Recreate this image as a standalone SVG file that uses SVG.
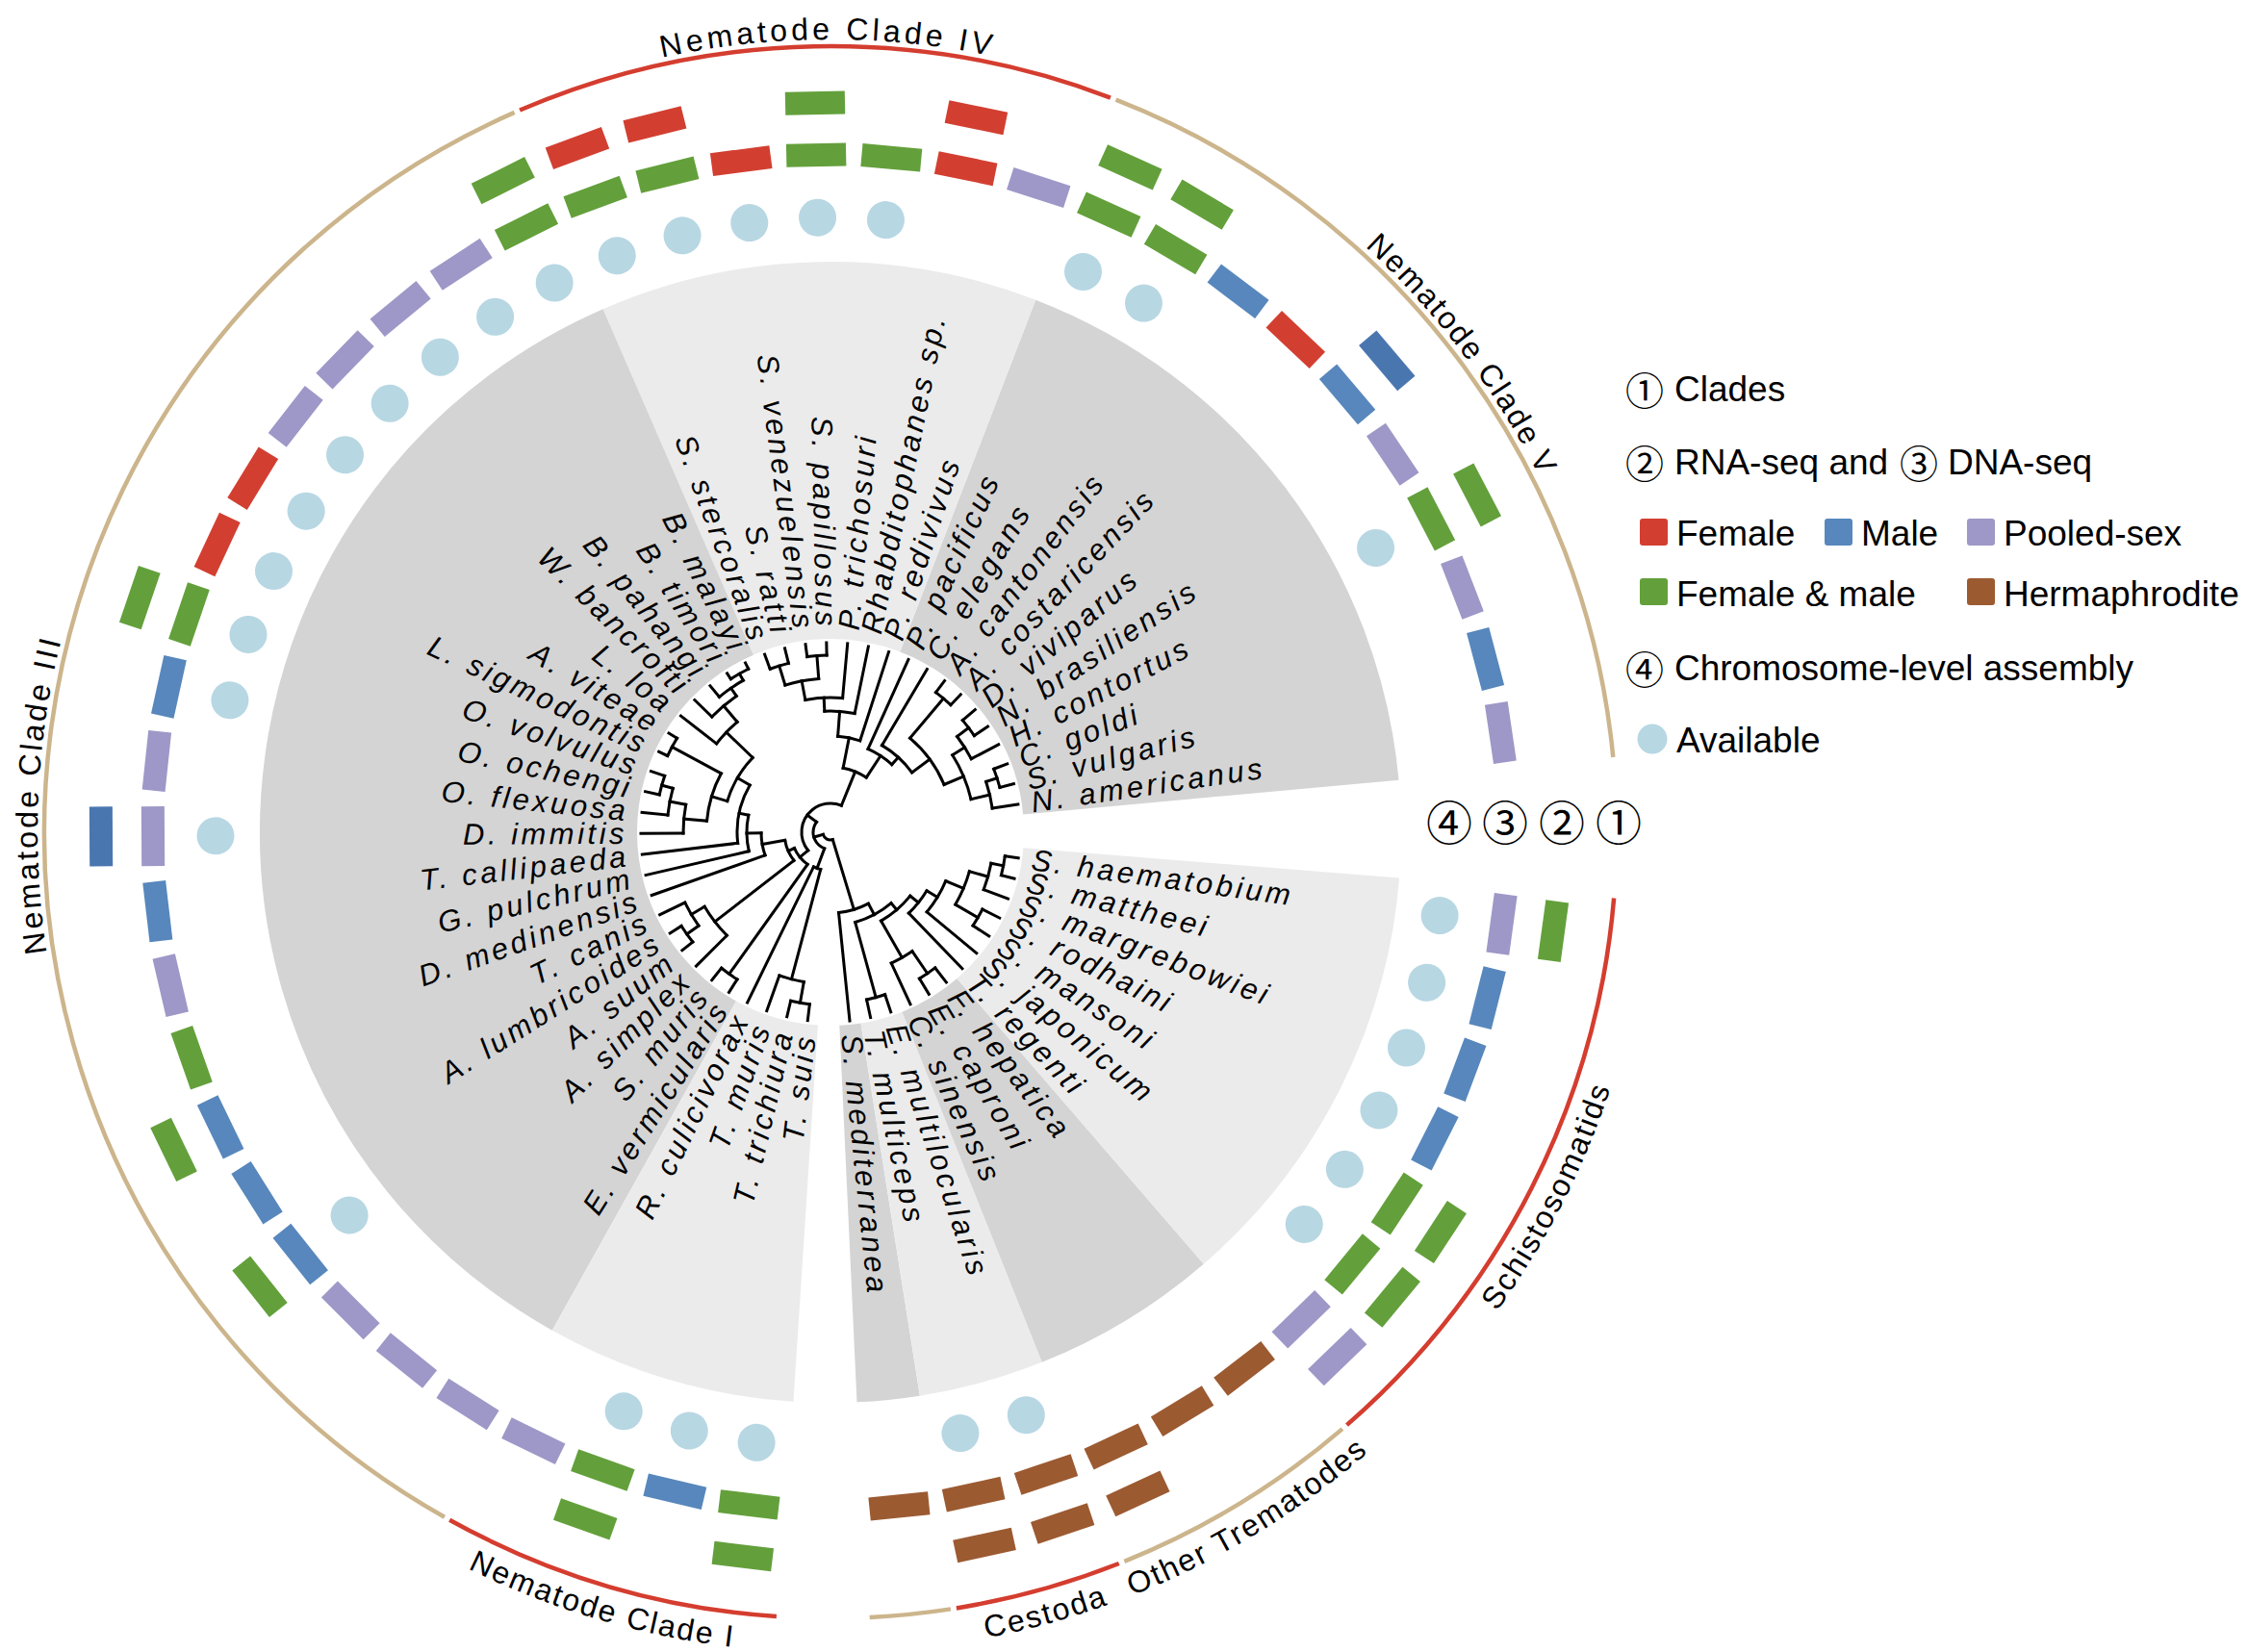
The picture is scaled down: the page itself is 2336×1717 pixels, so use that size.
<svg xmlns="http://www.w3.org/2000/svg" xmlns:xlink="http://www.w3.org/1999/xlink" width="2336" height="1717" viewBox="0 0 2336 1717">
<style>
text{font-family:"Liberation Sans",Arial,sans-serif;fill:#000}
.lb{font-size:31px;font-style:italic;letter-spacing:3.5px}
.le{text-anchor:end}
.cR{fill:#d23f31}.cB{fill:#5787bc}.cD{fill:#4a76b0}.cL{fill:#9d98c7}.cG{fill:#63a03b}.cH{fill:#9c5a31}.av{fill:#b7d7e3}
.t path,.t circle{fill:none;stroke:#000;stroke-width:3;stroke-linecap:square}
.sec{fill:none;stroke-width:392}
.dk{stroke:#d4d4d4}.lt{stroke:#ebebeb}
.arc{fill:none;stroke-width:4.5}
.tan{stroke:#ccb58c}.red{stroke:#d43d2f}
.cl{font-size:32px;letter-spacing:2px}
.lg{font-size:37px}
.cn{font-family:"Noto Sans CJK SC","Noto Sans CJK JP",sans-serif;text-anchor:middle;dominant-baseline:central}
</style>
<defs>
<path id="cw" d="M824,0A824,824 0 0 1 -824,0A824,824 0 0 1 824,0"/>
<path id="ccw" d="M853,0A853,853 0 0 0 -853,0A853,853 0 0 0 853,0"/>
</defs>
<rect width="2336" height="1717" fill="#fff"/>
<g id="sectors" transform="translate(863,865)">
<circle class="sec dk" r="397" pathLength="360" stroke-dasharray="63.66 360" transform="rotate(-68.927)"/>
<circle class="sec lt" r="397" pathLength="360" stroke-dasharray="44.562 360" transform="rotate(-113.489)"/>
<circle class="sec dk" r="397" pathLength="360" stroke-dasharray="127.32 360" transform="rotate(-240.809)"/>
<circle class="sec lt" r="397" pathLength="360" stroke-dasharray="25.464 360" transform="rotate(-266.273)"/>
<circle class="sec dk" r="397" pathLength="360" stroke-dasharray="6.366 360" transform="rotate(-279.005)"/>
<circle class="sec lt" r="397" pathLength="360" stroke-dasharray="12.732 360" transform="rotate(-291.737)"/>
<circle class="sec dk" r="397" pathLength="360" stroke-dasharray="19.098 360" transform="rotate(-310.835)"/>
<circle class="sec lt" r="397" pathLength="360" stroke-dasharray="44.562 360" transform="rotate(-355.397)"/>
</g>
<g id="clade-arcs" transform="translate(863,865)">
<circle class="arc tan" r="817" pathLength="360" stroke-dasharray="63.24 360" transform="rotate(-68.717)"/>
<circle class="arc red" r="817" pathLength="360" stroke-dasharray="44.142 360" transform="rotate(-113.279)"/>
<circle class="arc tan" r="817" pathLength="360" stroke-dasharray="126.9 360" transform="rotate(-240.599)"/>
<circle class="arc red" r="817" pathLength="360" stroke-dasharray="25.044 360" transform="rotate(-266.063)"/>
<circle class="arc tan" r="817" pathLength="360" stroke-dasharray="5.946 360" transform="rotate(-278.795)"/>
<circle class="arc red" r="817" pathLength="360" stroke-dasharray="12.312 360" transform="rotate(-291.527)"/>
<circle class="arc tan" r="817" pathLength="360" stroke-dasharray="18.678 360" transform="rotate(-310.625)"/>
<circle class="arc red" r="817" pathLength="360" stroke-dasharray="44.142 360" transform="rotate(-355.187)"/>
<g transform="rotate(-127.1)"><text class="cl" text-anchor="middle"><textPath xlink:href="#cw" href="#cw" startOffset="25%">Nematode Clade V</textPath></text></g>
<g transform="rotate(-180.2)"><text class="cl" text-anchor="middle" style="letter-spacing:4px"><textPath xlink:href="#cw" href="#cw" startOffset="25%">Nematode Clade IV</textPath></text></g>
<g transform="rotate(-267.3)"><text class="cl" text-anchor="middle" style="letter-spacing:3px"><textPath xlink:href="#cw" href="#cw" startOffset="25%">Nematode Clade III</textPath></text></g>
<g transform="rotate(196.5)"><text class="cl" text-anchor="middle"><textPath xlink:href="#ccw" href="#ccw" startOffset="25%">Nematode Clade I</textPath></text></g>
<g transform="rotate(164.6)"><text class="cl" text-anchor="middle"><textPath xlink:href="#ccw" href="#ccw" startOffset="25%">Cestoda</textPath></text></g>
<g transform="rotate(148.7)"><text class="cl" text-anchor="middle"><textPath xlink:href="#ccw" href="#ccw" startOffset="25%">Other Trematodes</textPath></text></g>
<g transform="rotate(116.9)"><text class="cl" text-anchor="middle"><textPath xlink:href="#ccw" href="#ccw" startOffset="25%">Schistosomatids</textPath></text></g>
</g>
<g id="connectors" class="t" transform="translate(863,865)">
<circle r="182" pathLength="360" stroke-dasharray="6.366 360" transform="rotate(-21.182)"/><path d="M182 0H197" transform="rotate(-14.816)"/><path d="M182 0H197" transform="rotate(-21.182)"/>
<circle r="170" pathLength="360" stroke-dasharray="9.549 360" transform="rotate(-17.999)"/><path d="M170 0H197" transform="rotate(-8.45)"/><path d="M170 0H182" transform="rotate(-17.999)"/>
<circle r="180" pathLength="360" stroke-dasharray="6.366 360" transform="rotate(-40.28)"/><path d="M180 0H197" transform="rotate(-33.914)"/><path d="M180 0H197" transform="rotate(-40.28)"/>
<circle r="165" pathLength="360" stroke-dasharray="9.549 360" transform="rotate(-37.097)"/><path d="M165 0H197" transform="rotate(-27.548)"/><path d="M165 0H180" transform="rotate(-37.097)"/>
<circle r="150" pathLength="360" stroke-dasharray="19.098 360" transform="rotate(-32.323)"/><path d="M150 0H170" transform="rotate(-13.225)"/><path d="M150 0H165" transform="rotate(-32.323)"/>
<circle r="182" pathLength="360" stroke-dasharray="6.366 360" transform="rotate(-53.012)"/><path d="M182 0H197" transform="rotate(-46.646)"/><path d="M182 0H197" transform="rotate(-53.012)"/>
<circle r="128" pathLength="360" stroke-dasharray="27.056 360" transform="rotate(-49.829)"/><path d="M128 0H150" transform="rotate(-22.774)"/><path d="M128 0H182" transform="rotate(-49.829)"/>
<circle r="105" pathLength="360" stroke-dasharray="23.077 360" transform="rotate(-59.378)"/><path d="M105 0H128" transform="rotate(-36.301)"/><path d="M105 0H197" transform="rotate(-59.378)"/>
<circle r="95" pathLength="360" stroke-dasharray="17.904 360" transform="rotate(-65.744)"/><path d="M95 0H105" transform="rotate(-47.839)"/><path d="M95 0H197" transform="rotate(-65.744)"/>
<circle r="184" pathLength="360" stroke-dasharray="6.366 360" transform="rotate(-97.574)"/><path d="M184 0H197" transform="rotate(-91.208)"/><path d="M184 0H197" transform="rotate(-97.574)"/>
<circle r="181" pathLength="360" stroke-dasharray="6.366 360" transform="rotate(-110.306)"/><path d="M181 0H197" transform="rotate(-103.94)"/><path d="M181 0H197" transform="rotate(-110.306)"/>
<circle r="160" pathLength="360" stroke-dasharray="12.732 360" transform="rotate(-107.123)"/><path d="M160 0H184" transform="rotate(-94.391)"/><path d="M160 0H181" transform="rotate(-107.123)"/>
<circle r="140" pathLength="360" stroke-dasharray="15.915 360" transform="rotate(-100.757)"/><path d="M140 0H197" transform="rotate(-84.842)"/><path d="M140 0H160" transform="rotate(-100.757)"/>
<circle r="126" pathLength="360" stroke-dasharray="14.324 360" transform="rotate(-92.8)"/><path d="M126 0H197" transform="rotate(-78.476)"/><path d="M126 0H140" transform="rotate(-92.8)"/>
<circle r="100" pathLength="360" stroke-dasharray="13.528 360" transform="rotate(-85.638)"/><path d="M100 0H197" transform="rotate(-72.11)"/><path d="M100 0H126" transform="rotate(-85.638)"/>
<circle r="68" pathLength="360" stroke-dasharray="22.082 360" transform="rotate(-78.874)"/><path d="M68 0H95" transform="rotate(-56.792)"/><path d="M68 0H100" transform="rotate(-78.874)"/>
<circle r="190" pathLength="360" stroke-dasharray="6.366 360" transform="rotate(-123.038)"/><path d="M190 0H197" transform="rotate(-116.672)"/><path d="M190 0H197" transform="rotate(-123.038)"/>
<circle r="182" pathLength="360" stroke-dasharray="9.549 360" transform="rotate(-129.404)"/><path d="M182 0H190" transform="rotate(-119.855)"/><path d="M182 0H197" transform="rotate(-129.404)"/>
<circle r="172" pathLength="360" stroke-dasharray="11.141 360" transform="rotate(-135.77)"/><path d="M172 0H182" transform="rotate(-124.63)"/><path d="M172 0H197" transform="rotate(-135.77)"/>
<circle r="150" pathLength="360" stroke-dasharray="11.936 360" transform="rotate(-142.136)"/><path d="M150 0H172" transform="rotate(-130.2)"/><path d="M150 0H197" transform="rotate(-142.136)"/>
<circle r="187" pathLength="360" stroke-dasharray="6.366 360" transform="rotate(-154.868)"/><path d="M187 0H197" transform="rotate(-148.502)"/><path d="M187 0H197" transform="rotate(-154.868)"/>
<circle r="182" pathLength="360" stroke-dasharray="6.366 360" transform="rotate(-167.6)"/><path d="M182 0H197" transform="rotate(-161.234)"/><path d="M182 0H197" transform="rotate(-167.6)"/>
<circle r="170" pathLength="360" stroke-dasharray="9.549 360" transform="rotate(-173.966)"/><path d="M170 0H182" transform="rotate(-164.417)"/><path d="M170 0H197" transform="rotate(-173.966)"/>
<circle r="153" pathLength="360" stroke-dasharray="11.141 360" transform="rotate(-180.332)"/><path d="M153 0H170" transform="rotate(-169.192)"/><path d="M153 0H197" transform="rotate(-180.332)"/>
<circle r="129" pathLength="360" stroke-dasharray="23.077 360" transform="rotate(-174.762)"/><path d="M129 0H187" transform="rotate(-151.685)"/><path d="M129 0H153" transform="rotate(-174.762)"/>
<circle r="112" pathLength="360" stroke-dasharray="27.056 360" transform="rotate(-163.223)"/><path d="M112 0H150" transform="rotate(-136.168)"/><path d="M112 0H129" transform="rotate(-163.223)"/>
<circle r="97" pathLength="360" stroke-dasharray="37.002 360" transform="rotate(-186.698)"/><path d="M97 0H112" transform="rotate(-149.696)"/><path d="M97 0H197" transform="rotate(-186.698)"/>
<circle r="87" pathLength="360" stroke-dasharray="24.867 360" transform="rotate(-193.064)"/><path d="M87 0H97" transform="rotate(-168.197)"/><path d="M87 0H197" transform="rotate(-193.064)"/>
<circle r="72" pathLength="360" stroke-dasharray="18.8 360" transform="rotate(-199.43)"/><path d="M72 0H87" transform="rotate(-180.63)"/><path d="M72 0H197" transform="rotate(-199.43)"/>
<circle r="183" pathLength="360" stroke-dasharray="6.366 360" transform="rotate(-218.528)"/><path d="M183 0H197" transform="rotate(-212.162)"/><path d="M183 0H197" transform="rotate(-218.528)"/>
<circle r="168" pathLength="360" stroke-dasharray="9.549 360" transform="rotate(-215.345)"/><path d="M168 0H197" transform="rotate(-205.796)"/><path d="M168 0H183" transform="rotate(-215.345)"/>
<circle r="152" pathLength="360" stroke-dasharray="14.324 360" transform="rotate(-224.894)"/><path d="M152 0H168" transform="rotate(-210.57)"/><path d="M152 0H197" transform="rotate(-224.894)"/>
<circle r="48" pathLength="360" stroke-dasharray="27.702 360" transform="rotate(-217.732)"/><path d="M48 0H72" transform="rotate(-190.031)"/><path d="M48 0H152" transform="rotate(-217.732)"/>
<circle r="181" pathLength="360" stroke-dasharray="6.366 360" transform="rotate(-237.626)"/><path d="M181 0H197" transform="rotate(-231.26)"/><path d="M181 0H197" transform="rotate(-237.626)"/>
<circle r="41" pathLength="360" stroke-dasharray="30.563 360" transform="rotate(-234.443)"/><path d="M41 0H48" transform="rotate(-203.88)"/><path d="M41 0H181" transform="rotate(-234.443)"/>
<circle r="30" pathLength="360" stroke-dasharray="151.33 360" transform="rotate(-219.162)"/><path d="M30 0H68" transform="rotate(-67.832)"/><path d="M30 0H41" transform="rotate(-219.162)"/>
<circle r="180" pathLength="360" stroke-dasharray="6.366 360" transform="rotate(-263.09)"/><path d="M180 0H197" transform="rotate(-256.724)"/><path d="M180 0H197" transform="rotate(-263.09)"/>
<circle r="158" pathLength="360" stroke-dasharray="9.549 360" transform="rotate(-259.907)"/><path d="M158 0H197" transform="rotate(-250.358)"/><path d="M158 0H180" transform="rotate(-259.907)"/>
<circle r="40" pathLength="360" stroke-dasharray="11.141 360" transform="rotate(-255.132)"/><path d="M40 0H197" transform="rotate(-243.992)"/><path d="M40 0H158" transform="rotate(-255.132)"/>
<circle r="18" pathLength="360" stroke-dasharray="106.06 360" transform="rotate(-249.562)"/><path d="M18 0H30" transform="rotate(-143.498)"/><path d="M18 0H40" transform="rotate(-249.562)"/>
<circle r="178" pathLength="360" stroke-dasharray="6.366 360" transform="rotate(-288.554)"/><path d="M178 0H197" transform="rotate(-282.188)"/><path d="M178 0H197" transform="rotate(-288.554)"/>
<circle r="178" pathLength="360" stroke-dasharray="6.366 360" transform="rotate(-307.652)"/><path d="M178 0H197" transform="rotate(-301.286)"/><path d="M178 0H197" transform="rotate(-307.652)"/>
<circle r="150" pathLength="360" stroke-dasharray="9.549 360" transform="rotate(-304.469)"/><path d="M150 0H197" transform="rotate(-294.92)"/><path d="M150 0H178" transform="rotate(-304.469)"/>
<circle r="183" pathLength="360" stroke-dasharray="6.366 360" transform="rotate(-352.214)"/><path d="M183 0H197" transform="rotate(-345.848)"/><path d="M183 0H197" transform="rotate(-352.214)"/>
<circle r="170" pathLength="360" stroke-dasharray="9.549 360" transform="rotate(-349.031)"/><path d="M170 0H197" transform="rotate(-339.482)"/><path d="M170 0H183" transform="rotate(-349.031)"/>
<circle r="177" pathLength="360" stroke-dasharray="6.366 360" transform="rotate(-333.116)"/><path d="M177 0H197" transform="rotate(-326.75)"/><path d="M177 0H197" transform="rotate(-333.116)"/>
<circle r="150" pathLength="360" stroke-dasharray="14.324 360" transform="rotate(-344.257)"/><path d="M150 0H177" transform="rotate(-329.933)"/><path d="M150 0H170" transform="rotate(-344.257)"/>
<circle r="130" pathLength="360" stroke-dasharray="16.711 360" transform="rotate(-337.095)"/><path d="M130 0H197" transform="rotate(-320.384)"/><path d="M130 0H150" transform="rotate(-337.095)"/>
<circle r="117" pathLength="360" stroke-dasharray="14.721 360" transform="rotate(-328.74)"/><path d="M117 0H197" transform="rotate(-314.018)"/><path d="M117 0H130" transform="rotate(-328.74)"/>
<circle r="106" pathLength="360" stroke-dasharray="21.684 360" transform="rotate(-321.379)"/><path d="M106 0H150" transform="rotate(-299.695)"/><path d="M106 0H117" transform="rotate(-321.379)"/>
<circle r="97" pathLength="360" stroke-dasharray="25.165 360" transform="rotate(-310.535)"/><path d="M97 0H178" transform="rotate(-285.371)"/><path d="M97 0H106" transform="rotate(-310.535)"/>
<circle r="84" pathLength="360" stroke-dasharray="22.135 360" transform="rotate(-297.957)"/><path d="M84 0H197" transform="rotate(-275.822)"/><path d="M84 0H97" transform="rotate(-297.957)"/>
<circle r="8" pathLength="360" stroke-dasharray="90.359 360" transform="rotate(-286.886)"/><path d="M8 0H18" transform="rotate(-196.527)"/><path d="M8 0H84" transform="rotate(-286.886)"/>
</g>
<g id="taxa" transform="translate(863,865)">
<g id="tip00" transform="rotate(-8.45)"><text class="lb" x="211" dy=".34em">N. americanus</text><rect class="cL" x="692" y="-31" width="24" height="62"/></g>
<g id="tip01" transform="rotate(-14.816)"><text class="lb" x="211" dy=".34em">S. vulgaris</text><rect class="cB" x="692" y="-31" width="24" height="62"/></g>
<g id="tip02" transform="rotate(-21.182)"><text class="lb" x="211" dy=".34em">C. goldi</text><rect class="cL" x="692" y="-31" width="24" height="62"/></g>
<g id="tip03" transform="rotate(-27.548)"><text class="lb" x="211" dy=".34em">H. contortus</text><circle class="av" cx="639" r="19.5"/><rect class="cG" x="692" y="-31" width="24" height="62"/><rect class="cG" x="746" y="-31" width="24" height="62"/></g>
<g id="tip04" transform="rotate(-33.914)"><text class="lb" x="211" dy=".34em">N. brasiliensis</text><rect class="cL" x="692" y="-31" width="24" height="62"/></g>
<g id="tip05" transform="rotate(-40.28)"><text class="lb" x="211" dy=".34em">D. viviparus</text><rect class="cB" x="692" y="-31" width="24" height="62"/><rect class="cD" x="746" y="-31" width="24" height="62"/></g>
<g id="tip06" transform="rotate(-46.646)"><text class="lb" x="211" dy=".34em">A. costaricensis</text><rect class="cR" x="692" y="-31" width="24" height="62"/></g>
<g id="tip07" transform="rotate(-53.012)"><text class="lb" x="211" dy=".34em">A. cantonensis</text><rect class="cB" x="692" y="-31" width="24" height="62"/></g>
<g id="tip08" transform="rotate(-59.378)"><text class="lb" x="211" dy=".34em">C. elegans</text><circle class="av" cx="639" r="19.5"/><rect class="cG" x="692" y="-31" width="24" height="62"/><rect class="cG" x="746" y="-31" width="24" height="62"/></g>
<g id="tip09" transform="rotate(-65.744)"><text class="lb" x="211" dy=".34em">P. pacificus</text><circle class="av" cx="639" r="19.5"/><rect class="cG" x="692" y="-31" width="24" height="62"/><rect class="cG" x="746" y="-31" width="24" height="62"/></g>
<g id="tip10" transform="rotate(-72.11)"><text class="lb" x="211" dy=".34em">P. redivivus</text><rect class="cL" x="692" y="-31" width="24" height="62"/></g>
<g id="tip11" transform="rotate(-78.476)"><text class="lb" x="211" dy=".34em">Rhabditophanes sp.</text><rect class="cR" x="692" y="-31" width="24" height="62"/><rect class="cR" x="746" y="-31" width="24" height="62"/></g>
<g id="tip12" transform="rotate(-84.842)"><text class="lb" x="211" dy=".34em">P. trichosuri</text><circle class="av" cx="639" r="19.5"/><rect class="cG" x="692" y="-31" width="24" height="62"/></g>
<g id="tip13" transform="rotate(-91.208)"><text class="lb le" transform="rotate(180)" x="-211" dy=".34em">S. papillosus</text><circle class="av" cx="639" r="19.5"/><rect class="cG" x="692" y="-31" width="24" height="62"/><rect class="cG" x="746" y="-31" width="24" height="62"/></g>
<g id="tip14" transform="rotate(-97.574)"><text class="lb le" transform="rotate(180)" x="-211" dy=".34em">S. venezuelensis</text><circle class="av" cx="639" r="19.5"/><rect class="cR" x="692" y="-31" width="24" height="62"/></g>
<g id="tip15" transform="rotate(-103.94)"><text class="lb le" transform="rotate(180)" x="-211" dy=".34em">S. ratti</text><circle class="av" cx="639" r="19.5"/><rect class="cG" x="692" y="-31" width="24" height="62"/><rect class="cR" x="746" y="-31" width="24" height="62"/></g>
<g id="tip16" transform="rotate(-110.306)"><text class="lb le" transform="rotate(180)" x="-211" dy=".34em">S. stercoralis</text><circle class="av" cx="639" r="19.5"/><rect class="cG" x="692" y="-31" width="24" height="62"/><rect class="cR" x="746" y="-31" width="24" height="62"/></g>
<g id="tip17" transform="rotate(-116.672)"><text class="lb le" transform="rotate(180)" x="-211" dy=".34em">B. malayi</text><circle class="av" cx="639" r="19.5"/><rect class="cG" x="692" y="-31" width="24" height="62"/><rect class="cG" x="746" y="-31" width="24" height="62"/></g>
<g id="tip18" transform="rotate(-123.038)"><text class="lb le" transform="rotate(180)" x="-211" dy=".34em">B. timori</text><circle class="av" cx="639" r="19.5"/><rect class="cL" x="692" y="-31" width="24" height="62"/></g>
<g id="tip19" transform="rotate(-129.404)"><text class="lb le" transform="rotate(180)" x="-211" dy=".34em">B. pahangi</text><circle class="av" cx="639" r="19.5"/><rect class="cL" x="692" y="-31" width="24" height="62"/></g>
<g id="tip20" transform="rotate(-135.77)"><text class="lb le" transform="rotate(180)" x="-211" dy=".34em">W. bancrofti</text><circle class="av" cx="639" r="19.5"/><rect class="cL" x="692" y="-31" width="24" height="62"/></g>
<g id="tip21" transform="rotate(-142.136)"><text class="lb le" transform="rotate(180)" x="-211" dy=".34em">L. loa</text><circle class="av" cx="639" r="19.5"/><rect class="cL" x="692" y="-31" width="24" height="62"/></g>
<g id="tip22" transform="rotate(-148.502)"><text class="lb le" transform="rotate(180)" x="-211" dy=".34em">A. viteae</text><circle class="av" cx="639" r="19.5"/><rect class="cR" x="692" y="-31" width="24" height="62"/></g>
<g id="tip23" transform="rotate(-154.868)"><text class="lb le" transform="rotate(180)" x="-211" dy=".34em">L. sigmodontis</text><circle class="av" cx="639" r="19.5"/><rect class="cR" x="692" y="-31" width="24" height="62"/></g>
<g id="tip24" transform="rotate(-161.234)"><text class="lb le" transform="rotate(180)" x="-211" dy=".34em">O. volvulus</text><circle class="av" cx="639" r="19.5"/><rect class="cG" x="692" y="-31" width="24" height="62"/><rect class="cG" x="746" y="-31" width="24" height="62"/></g>
<g id="tip25" transform="rotate(-167.6)"><text class="lb le" transform="rotate(180)" x="-211" dy=".34em">O. ochengi</text><circle class="av" cx="639" r="19.5"/><rect class="cB" x="692" y="-31" width="24" height="62"/></g>
<g id="tip26" transform="rotate(-173.966)"><text class="lb le" transform="rotate(180)" x="-211" dy=".34em">O. flexuosa</text><rect class="cL" x="692" y="-31" width="24" height="62"/></g>
<g id="tip27" transform="rotate(-180.332)"><text class="lb le" transform="rotate(180)" x="-211" dy=".34em">D. immitis</text><circle class="av" cx="639" r="19.5"/><rect class="cL" x="692" y="-31" width="24" height="62"/><rect class="cD" x="746" y="-31" width="24" height="62"/></g>
<g id="tip28" transform="rotate(-186.698)"><text class="lb le" transform="rotate(180)" x="-211" dy=".34em">T. callipaeda</text><rect class="cB" x="692" y="-31" width="24" height="62"/></g>
<g id="tip29" transform="rotate(-193.064)"><text class="lb le" transform="rotate(180)" x="-211" dy=".34em">G. pulchrum</text><rect class="cL" x="692" y="-31" width="24" height="62"/></g>
<g id="tip30" transform="rotate(-199.43)"><text class="lb le" transform="rotate(180)" x="-211" dy=".34em">D. medinensis</text><rect class="cG" x="692" y="-31" width="24" height="62"/></g>
<g id="tip31" transform="rotate(-205.796)"><text class="lb le" transform="rotate(180)" x="-211" dy=".34em">T. canis</text><rect class="cB" x="692" y="-31" width="24" height="62"/><rect class="cG" x="746" y="-31" width="24" height="62"/></g>
<g id="tip32" transform="rotate(-212.162)"><text class="lb le" transform="rotate(180)" x="-211" dy=".34em">A. lumbricoides</text><rect class="cB" x="692" y="-31" width="24" height="62"/></g>
<g id="tip33" transform="rotate(-218.528)"><text class="lb le" transform="rotate(180)" x="-211" dy=".34em">A. suum</text><circle class="av" cx="639" r="19.5"/><rect class="cB" x="692" y="-31" width="24" height="62"/><rect class="cG" x="746" y="-31" width="24" height="62"/></g>
<g id="tip34" transform="rotate(-224.894)"><text class="lb le" transform="rotate(180)" x="-211" dy=".34em">A. simplex</text><rect class="cL" x="692" y="-31" width="24" height="62"/></g>
<g id="tip35" transform="rotate(-231.26)"><text class="lb le" transform="rotate(180)" x="-211" dy=".34em">S. muris</text><rect class="cL" x="692" y="-31" width="24" height="62"/></g>
<g id="tip36" transform="rotate(-237.626)"><text class="lb le" transform="rotate(180)" x="-211" dy=".34em">E. vermicularis</text><rect class="cL" x="692" y="-31" width="24" height="62"/></g>
<g id="tip37" transform="rotate(-243.992)"><text class="lb le" transform="rotate(180)" x="-211" dy=".34em">R. culicivorax</text><rect class="cL" x="692" y="-31" width="24" height="62"/></g>
<g id="tip38" transform="rotate(-250.358)"><text class="lb le" transform="rotate(180)" x="-211" dy=".34em">T. muris</text><circle class="av" cx="639" r="19.5"/><rect class="cG" x="692" y="-31" width="24" height="62"/><rect class="cG" x="746" y="-31" width="24" height="62"/></g>
<g id="tip39" transform="rotate(-256.724)"><text class="lb le" transform="rotate(180)" x="-211" dy=".34em">T. trichiura</text><circle class="av" cx="639" r="19.5"/><rect class="cB" x="692" y="-31" width="24" height="62"/></g>
<g id="tip40" transform="rotate(-263.09)"><text class="lb le" transform="rotate(180)" x="-211" dy=".34em">T. suis</text><circle class="av" cx="639" r="19.5"/><rect class="cG" x="692" y="-31" width="24" height="62"/><rect class="cG" x="746" y="-31" width="24" height="62"/></g>
<g id="tip42" transform="rotate(84.178)"><text class="lb" x="211" dy=".34em">S. mediterranea</text><rect class="cH" x="692" y="-31" width="24" height="62"/></g>
<g id="tip43" transform="rotate(77.812)"><text class="lb" x="211" dy=".34em">T. multiceps</text><circle class="av" cx="639" r="19.5"/><rect class="cH" x="692" y="-31" width="24" height="62"/><rect class="cH" x="746" y="-31" width="24" height="62"/></g>
<g id="tip44" transform="rotate(71.446)"><text class="lb" x="211" dy=".34em">E. multilocularis</text><circle class="av" cx="639" r="19.5"/><rect class="cH" x="692" y="-31" width="24" height="62"/><rect class="cH" x="746" y="-31" width="24" height="62"/></g>
<g id="tip45" transform="rotate(65.08)"><text class="lb" x="211" dy=".34em">C. sinensis</text><rect class="cH" x="692" y="-31" width="24" height="62"/><rect class="cH" x="746" y="-31" width="24" height="62"/></g>
<g id="tip46" transform="rotate(58.714)"><text class="lb" x="211" dy=".34em">E. caproni</text><rect class="cH" x="692" y="-31" width="24" height="62"/></g>
<g id="tip47" transform="rotate(52.348)"><text class="lb" x="211" dy=".34em">F. hepatica</text><rect class="cH" x="692" y="-31" width="24" height="62"/></g>
<g id="tip48" transform="rotate(45.982)"><text class="lb" x="211" dy=".34em">T. regenti</text><rect class="cL" x="692" y="-31" width="24" height="62"/><rect class="cL" x="746" y="-31" width="24" height="62"/></g>
<g id="tip49" transform="rotate(39.616)"><text class="lb" x="211" dy=".34em">S. japonicum</text><circle class="av" cx="639" r="19.5"/><rect class="cG" x="692" y="-31" width="24" height="62"/><rect class="cG" x="746" y="-31" width="24" height="62"/></g>
<g id="tip50" transform="rotate(33.25)"><text class="lb" x="211" dy=".34em">S. mansoni</text><circle class="av" cx="639" r="19.5"/><rect class="cG" x="692" y="-31" width="24" height="62"/><rect class="cG" x="746" y="-31" width="24" height="62"/></g>
<g id="tip51" transform="rotate(26.884)"><text class="lb" x="211" dy=".34em">S. rodhaini</text><circle class="av" cx="639" r="19.5"/><rect class="cB" x="692" y="-31" width="24" height="62"/></g>
<g id="tip52" transform="rotate(20.518)"><text class="lb" x="211" dy=".34em">S. margrebowiei</text><circle class="av" cx="639" r="19.5"/><rect class="cB" x="692" y="-31" width="24" height="62"/></g>
<g id="tip53" transform="rotate(14.152)"><text class="lb" x="211" dy=".34em">S. mattheei</text><circle class="av" cx="639" r="19.5"/><rect class="cB" x="692" y="-31" width="24" height="62"/></g>
<g id="tip54" transform="rotate(7.786)"><text class="lb" x="211" dy=".34em">S. haematobium</text><circle class="av" cx="639" r="19.5"/><rect class="cL" x="692" y="-31" width="24" height="62"/><rect class="cG" x="746" y="-31" width="24" height="62"/></g>
</g>
<g id="ring-labels">
<text class="cn" x="1506" y="852" font-size="48">④</text>
<text class="cn" x="1564" y="852" font-size="48">③</text>
<text class="cn" x="1623" y="852" font-size="48">②</text>
<text class="cn" x="1682" y="852" font-size="48">①</text>
</g>
<g id="legend">
<text class="cn" x="1709" y="404" font-size="40">①</text><text class="lg" x="1740" y="417">Clades</text>
<text class="cn" x="1709" y="480" font-size="40">②</text><text class="lg" x="1740" y="493">RNA-seq and</text>
<text class="cn" x="1994" y="480" font-size="40">③</text><text class="lg" x="2024" y="493">DNA-seq</text>
<rect class="cR" x="1704" y="539" width="29" height="28" rx="3"/><text class="lg" x="1742" y="567">Female</text>
<rect class="cB" x="1896" y="539" width="29" height="28" rx="3"/><text class="lg" x="1934" y="567">Male</text>
<rect class="cL" x="2044" y="539" width="29" height="28" rx="3"/><text class="lg" x="2082" y="567">Pooled-sex</text>
<rect class="cG" x="1704" y="601" width="29" height="28" rx="3"/><text class="lg" x="1742" y="630">Female &amp; male</text>
<rect class="cH" x="2044" y="601" width="29" height="28" rx="3"/><text class="lg" x="2082" y="630">Hermaphrodite</text>
<text class="cn" x="1709" y="694" font-size="40">④</text><text class="lg" x="1740" y="707">Chromosome-level assembly</text>
<circle class="av" cx="1717" cy="768" r="15.5"/><text class="lg" x="1742" y="782">Available</text>
</g>
</svg>
